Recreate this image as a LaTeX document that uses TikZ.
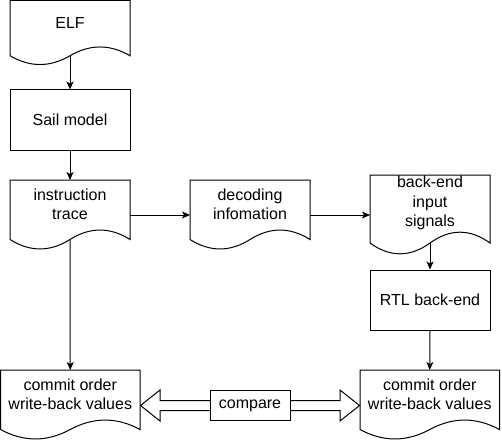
\documentclass[tikz,border=0pt]{standalone}
\usepackage{fontspec}
\setmainfont{Liberation Sans}
\usetikzlibrary{arrows.meta,calc}
\tikzset{
  shapeline/.style={draw=black,line width=1pt,fill=white},
  lbl/.style={align=center,font=\fontsize{16}{19.2}\selectfont,inner sep=0pt},
  procbox/.style={shapeline,lbl,minimum width=120pt,minimum height=60pt},
  flow/.style={line width=1pt,-{Stealth[length=8pt,width=7pt,inset=2pt]}},
  flex/.style={draw=black,line width=1pt,fill=white,line join=miter},
}
% #1 name, #2 x0, #3 y0, #4 w, #5 h, #6 text
\newcommand\docshape[6]{%
  \pgfmathsetmacro\dshdy{0.3*#5}%
  \draw[shapeline] (#2,#3) -- (#2+#4,#3) -- (#2+#4,#3+#5-0.5*\dshdy)
    .. controls (#2+5*#4/6,#3+#5-1.1*\dshdy) and (#2+2*#4/3,#3+#5-1.1*\dshdy) .. (#2+#4/2,#3+#5-0.5*\dshdy)
    .. controls (#2+#4/3,#3+#5+0.1*\dshdy) and (#2+#4/6,#3+#5+0.1*\dshdy) .. (#2,#3+#5-0.5*\dshdy) -- cycle;
  \coordinate (#1) at (#2+#4/2,#3+#5/2);
  \coordinate (#1-n) at (#2+#4/2,#3);
  \coordinate (#1-s) at (#2+#4/2,#3+#5-0.5*\dshdy);
  \coordinate (#1-w) at (#2,#3+#5/2);
  \coordinate (#1-e) at (#2+#4,#3+#5/2);
  \node[lbl] (#1-t) at (#2+#4/2,#3+#5/2-0.5*\dshdy) {#6};
}
\begin{document}
\begin{tikzpicture}[x=1pt,y=-1pt]
\useasboundingbox (0,0) rectangle (502,441);

\docshape{elf}{10}{0.5}{120}{65}{ELF}
\node[procbox] (sail) at (70,120) {Sail model};
\docshape{itr}{10}{180}{120}{70}{instruction\\trace}
\docshape{dec}{190}{180}{120}{70}{decoding\\infomation}
\docshape{bis}{370}{175}{120}{80}{back-end\\input\\signals}
\node[procbox] (rtl) at (430,300) {RTL back-end};
\docshape{cl}{0.5}{370}{139.5}{70}{commit order\\write-back values}
\docshape{cr}{360}{370}{139.5}{70}{commit order\\write-back values}

\draw[flow] (elf-s) -- (sail.north);
\draw[flow] (sail.south) -- (itr-n);
\draw[flow] (itr-e) -- (dec-w);
\draw[flow] (dec-e) -- (bis-w);
\draw[flow] (bis-s) -- (rtl.north);
\draw[flow] (itr-s) -- (cl-n);
\draw[flow] (rtl.south) -- (cr-n);

\coordinate (cmpc) at (250,405.5);
\coordinate (tipL) at (140.5,405.5);
\coordinate (tipR) at (359.5,405.5);
\draw[flex] (cmpc) ++(-40,-5) -- ++(-50,0) -- ++(0,-10.5) -- (tipL) -- ++(19.5,15.5) -- ++(0,-10.5) -- ++(50,0);
\draw[flex] (cmpc) ++(40,-5) -- ++(50,0) -- ++(0,-10.5) -- (tipR) -- ++(-19.5,15.5) -- ++(0,-10.5) -- ++(-50,0);
\node[shapeline,lbl,minimum width=80pt,minimum height=30pt] (cmp) at (cmpc) {compare};
\end{tikzpicture}
\end{document}
